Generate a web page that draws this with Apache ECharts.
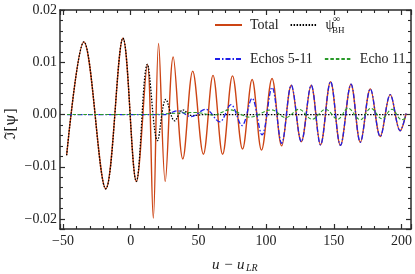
<!DOCTYPE html>
<html><head><meta charset="utf-8">
<script src="https://cdn.jsdelivr.net/npm/echarts@6/dist/echarts.min.js"></script>
<style>html,body{margin:0;padding:0;background:#fff}#c{width:415px;height:274px}</style>
</head><body><div id="c"></div>
<script>
// ---- data ----
const totalX = [-47.3, -34.6, -18.4, -5.7, 4.2, 12.3, 16.7, 20.6, 25.5, 31.4, 38.5, 45.8, 53.7, 60.8, 67.9, 75.2, 82.6, 89.7, 96.6, 104.4, 111.5, 118.6, 126.0, 133.3, 140.2, 147.6, 154.9, 162.7, 169.6, 177.0, 184.3, 191.7, 199.0, 203.4];
const totalY = [-0.0078, 0.0139, -0.0142, 0.0146, -0.0128, 0.0096, -0.0198, 0.0136, -0.0128, 0.0110, -0.0085, 0.0083, -0.0076, 0.0075, -0.0076, 0.0074, -0.0066, 0.0067, -0.0068, 0.0069, -0.0060, 0.0056, -0.0052, 0.0056, -0.0058, 0.0063, -0.0059, 0.0058, -0.0053, 0.0049, -0.0042, 0.0038, -0.0031, 0.0002];

const bhX = [-47.3, -34.6, -18.4, -5.7, 4.2, 12.3, 19.8, 26.0, 32.5, 38.5, 45.0, 55.0, 203.4];
const bhY = [-0.0078, 0.0139, -0.0142, 0.0146, -0.0128, 0.0096, -0.0050, 0.0029, -0.0012, 0.0009, -0.0002, 0.0, 0.0];

const echosX = [-47.0, 25.0, 34.8, 44.6, 55.3, 65.7, 74.0, 82.2, 89.6, 97.0, 104.4, 111.5, 118.6, 126.0, 133.3, 140.2, 147.6, 154.9, 162.7, 169.6, 177.0, 184.3, 191.7, 199.0, 203.4];
const echosY = [0.0, 0.0, 0.0007, -0.0004, 0.0010, -0.0014, 0.0019, -0.0021, 0.0031, -0.0039, 0.0052, -0.0055, 0.0056, -0.0052, 0.0056, -0.0058, 0.0063, -0.0059, 0.0058, -0.0053, 0.0049, -0.0042, 0.0038, -0.0031, 0.0002];

const echo11X = [-47.0, 15.0, 30.0, 48.0, 61.0, 73.0, 88.0, 104.0, 114.5, 124.3, 134.0, 143.9, 153.0, 160.5, 169.6, 177.4, 185.5, 192.9, 200.2, 203.4];
const echo11Y = [0.0, 0.0, 0.0002, 0.0004, -0.0001, 0.0009, -0.0005, 0.0009, -0.0006, 0.0010, -0.0009, 0.0010, -0.0009, 0.0012, -0.0010, 0.0012, -0.0008, 0.0010, -0.0010, -0.0006];

const xTicks = [-50, 0, 50, 100, 150, 200];
const yTicks = [-0.02, -0.01, 0.0, 0.01, 0.02];
const seriesNames = ['Total', 'ψBH', 'Echos 5-11', 'Echo 11'];

// ---- chart ----
function pairs(xs, ys) { return xs.map((x, i) => [x, ys[i]]); }
const FONT = 'Liberation Serif';
const AX = '#2a2a2a';
const near = (v, arr) => arr.some(t => Math.abs(t - v) < 1e-9);
const minus = s => s.replace('-', '\u2212');

function xAxisDef(pos, labels) {
  return {
    type: 'value', position: pos, min: -52.2, max: 207, splitNumber: 5,
    axisLine: { show: true, onZero: false, lineStyle: { color: AX, width: 1.5 } },
    axisTick: { show: true, inside: true, length: 5, lineStyle: { color: AX, width: 1.2 } },
    minorTick: { show: true, splitNumber: 5, length: 3, lineStyle: { color: AX, width: 1.1 } },
    splitLine: { show: false }, minorSplitLine: { show: false },
    axisLabel: labels ? {
      show: true, margin: 5, color: '#222', fontFamily: FONT, fontSize: 14,
      formatter: v => near(v, xTicks) ? minus(String(Math.round(v))) : ''
    } : { show: false }
  };
}
function yAxisDef(pos, labels) {
  return {
    type: 'value', position: pos, min: -0.0219, max: 0.02, splitNumber: 4,
    axisLine: { show: true, onZero: false, lineStyle: { color: AX, width: 1.5 } },
    axisTick: { show: true, inside: true, length: 5, lineStyle: { color: AX, width: 1.2 } },
    minorTick: { show: true, splitNumber: 5, length: 3, lineStyle: { color: AX, width: 1.1 } },
    splitLine: { show: false }, minorSplitLine: { show: false },
    axisLabel: labels ? {
      show: true, margin: 3, color: '#222', fontFamily: FONT, fontSize: 14,
      formatter: v => near(v, yTicks) ? minus(v.toFixed(2)) : ''
    } : { show: false }
  };
}

const legendText = { fontFamily: FONT, fontSize: 14, color: '#222', padding: [0, 0, 0, 3] };
const legendCommon = { itemWidth: 27, itemHeight: 14, itemGap: 11, textStyle: legendText, selectedMode: false,
  itemStyle: { opacity: 0 } };
const chart = echarts.init(document.getElementById('c'), null, { renderer: 'canvas' });
chart.setOption({
  animation: false,
  backgroundColor: '#fff',
  grid: { left: 60, right: 2, top: 10, bottom: 45, containLabel: false },
  xAxis: [xAxisDef('bottom', true), xAxisDef('top', false)],
  yAxis: [yAxisDef('left', true), yAxisDef('right', false)],
  legend: [
    Object.assign({ data: [seriesNames[0], seriesNames[1]], left: 209, top: 13,
      formatter: n => n === 'ψBH' ? 'ψ' : n }, legendCommon),
    Object.assign({ data: [seriesNames[2], seriesNames[3]], left: 209, top: 47 }, legendCommon)
  ],
  series: [
    { name: seriesNames[0], type: 'line', data: pairs(totalX, totalY), smooth: 0.36, symbol: 'none',
      lineStyle: { color: '#cc4414', width: 1.4 }, itemStyle: { color: '#cc4414' }, z: 2 },
    { name: seriesNames[1], type: 'line', data: pairs(bhX, bhY), smooth: 0.36, symbol: 'none',
      lineStyle: { color: '#000', width: 1.3, type: [1.5, 1.5] }, itemStyle: { color: '#000' }, z: 3 },
    { name: seriesNames[2], type: 'line', data: pairs(echosX, echosY), smooth: 0.36, symbol: 'none',
      lineStyle: { color: '#1f1fe8', width: 1.3, type: [5, 2, 1.5, 2] }, itemStyle: { color: '#1f1fe8' }, z: 4 },
    { name: seriesNames[3], type: 'line', data: pairs(echo11X, echo11Y), smooth: 0.36, symbol: 'none',
      lineStyle: { color: '#2a9a2a', width: 1.1, type: [3.5, 2] }, itemStyle: { color: '#2a9a2a' }, z: 5 }
  ],
  graphic: [
    { type: 'text', x: 333, y: 19.5, style: { text: '∞', font: '10px ' + FONT, fill: '#222', align: 'left', verticalAlign: 'middle' } },
    { type: 'text', x: 332, y: 30.5, style: { text: 'BH', font: '9px ' + FONT, fill: '#222', align: 'left', verticalAlign: 'middle' } },
    { type: 'text', x: 11, y: 124, rotation: Math.PI / 2,
      style: { text: 'ℑ[ψ]', font: '15px "DejaVu Serif", ' + FONT, fill: '#222', align: 'center', verticalAlign: 'middle' } },
    { type: 'text', x: 212, y: 265, style: { text: 'u − u', font: 'italic 15px ' + FONT, fill: '#222', align: 'left', verticalAlign: 'middle' } },
    { type: 'text', x: 246, y: 268, style: { text: 'LR', font: 'italic 10px ' + FONT, fill: '#222', align: 'left', verticalAlign: 'middle' } }
  ]
});
</script></body></html>
